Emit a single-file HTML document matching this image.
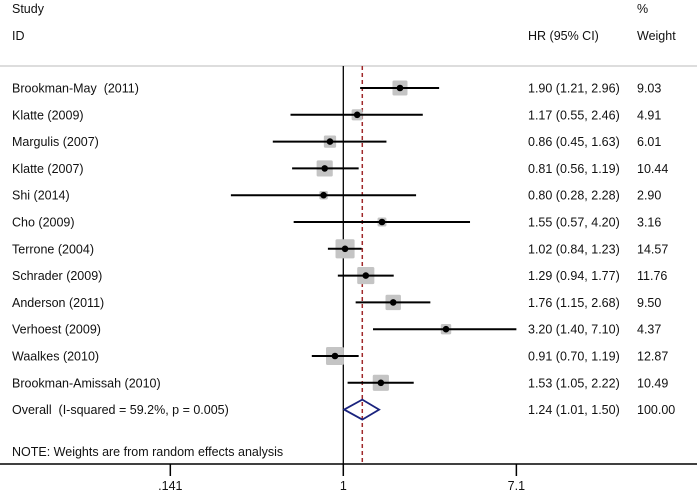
<!DOCTYPE html>
<html><head><meta charset="utf-8"><style>
body{margin:0;background:#fff}
svg text{font-family:"Liberation Sans",Arial,sans-serif;font-size:12.5px;fill:#111;white-space:pre}
</style></head><body>
<svg id="c" width="697" height="492" xmlns="http://www.w3.org/2000/svg">
<text x="12" y="13">Study</text>
<text x="12" y="40">ID</text>
<text x="528" y="40">HR (95% CI)</text>
<text x="637" y="13">%</text>
<text x="637" y="40">Weight</text>
<line x1="0" y1="66" x2="697" y2="66" stroke="#bbb" stroke-width="1"/>
<line x1="0" y1="464" x2="697" y2="464" stroke="#000" stroke-width="1.5"/>
<g id="marks"></g>
<text x="12" y="456">NOTE: Weights are from random effects analysis</text>
</svg>
<script>
const studies=["Brookman-May  (2011)","Klatte (2009)","Margulis (2007)","Klatte (2007)","Shi (2014)","Cho (2009)","Terrone (2004)","Schrader (2009)","Anderson (2011)","Verhoest (2009)","Waalkes (2010)","Brookman-Amissah (2010)"];
const hr=[1.90,1.17,0.86,0.81,0.80,1.55,1.02,1.29,1.76,3.20,0.91,1.53];
const lo=[1.21,0.55,0.45,0.56,0.28,0.57,0.84,0.94,1.15,1.40,0.70,1.05];
const hi=[2.96,2.46,1.63,1.19,2.28,4.20,1.23,1.77,2.68,7.10,1.19,2.22];
const weights=[9.03,4.91,6.01,10.44,2.90,3.16,14.57,11.76,9.50,4.37,12.87,10.49];
const overall=[1.24,1.01,1.50];
const overallLabel="Overall  (I-squared = 59.2%, p = 0.005)";
const ticks=[0.141,1,7.1];
const tickLabels=[".141","1","7.1"];
const NS="http://www.w3.org/2000/svg";
const X=v=>343.3+88.3*Math.log(v);
const Y=i=>88+26.8*i;
const g=document.getElementById('marks');
function mk(t,a){const e=document.createElementNS(NS,t);for(const k in a)e.setAttribute(k,a[k]);g.appendChild(e);return e;}
const fmt=v=>v.toFixed(2);
const yOv=Y(studies.length);
const HRX=528;
let e;
e=mk('line',{x1:X(1),y1:66,x2:X(1),y2:464,stroke:'#000','stroke-width':1.3});


e=mk('line',{x1:X(overall[0]),y1:66,x2:X(overall[0]),y2:464,stroke:'#a0282a','stroke-width':1.5,'stroke-dasharray':'4,3'});


studies.forEach((s,i)=>{
  const y=Y(i),sz=5*Math.sqrt(weights[i]);
  e=mk('rect',{x:X(hr[i])-sz/2,y:y-sz/2,width:sz,height:sz,fill:'#c4c4c4',rx:1.5});
  
  
  e=mk('line',{x1:X(lo[i]),y1:y,x2:X(hi[i]),y2:y,stroke:'#000','stroke-width':2});
  
  
  e=mk('circle',{cx:X(hr[i]),cy:y,r:3.3,fill:'#000'});
  
  
  e=mk('text',{x:12,y:y+4.5});e.textContent=s;
  
  
  e=mk('text',{x:HRX,y:y+4.5});e.textContent=`${fmt(hr[i])} (${fmt(lo[i])}, ${fmt(hi[i])})`;
  
  
  e=mk('text',{x:637,y:y+4.5});e.textContent=fmt(weights[i]);
  
  
});
e=mk('polygon',{points:`${X(overall[1])},${yOv} ${X(overall[0])},${yOv-10} ${X(overall[2])},${yOv} ${X(overall[0])},${yOv+10}`,fill:'none',stroke:'#1a237e','stroke-width':1.8});


e=mk('text',{x:12,y:yOv+4.5});e.textContent=overallLabel;


e=mk('text',{x:HRX,y:yOv+4.5});e.textContent=`${fmt(overall[0])} (${fmt(overall[1])}, ${fmt(overall[2])})`;


e=mk('text',{x:637,y:yOv+4.5});e.textContent="100.00";


ticks.forEach((t,i)=>{
  e=mk('line',{x1:X(t),y1:464,x2:X(t),y2:476,stroke:'#000','stroke-width':1.5});
  
  
  e=mk('text',{x:X(t),y:490,'text-anchor':'middle'});e.textContent=tickLabels[i];
  
  
});
</script>
</body></html>
